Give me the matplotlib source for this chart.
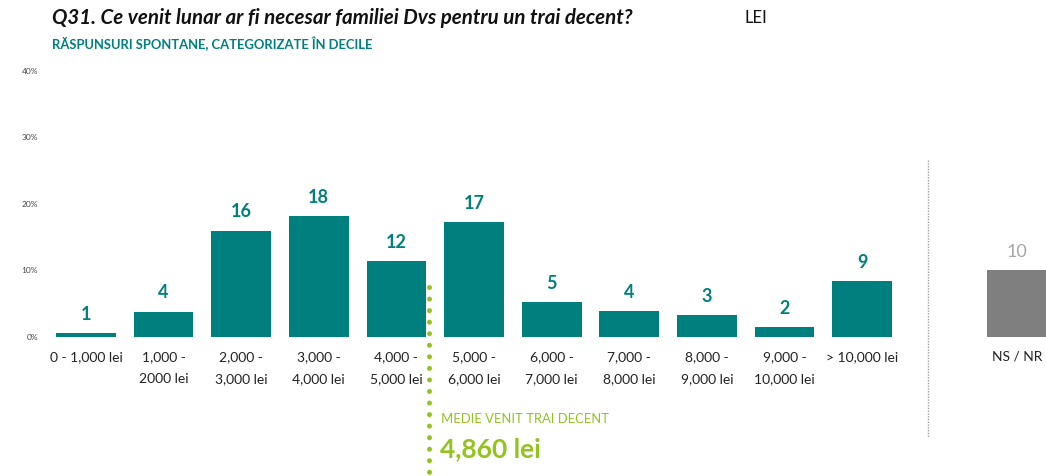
import matplotlib
matplotlib.use("Agg")
from matplotlib import pyplot as plt

# Data
categories = ["0 - 1,000 lei", "1,000 -\n2000 lei", "2,000 -\n3,000 lei", "3,000 -\n4,000 lei",
              "4,000 -\n5,000 lei", "5,000 -\n6,000 lei", "6,000 -\n7,000 lei", "7,000 -\n8,000 lei",
              "8,000 -\n9,000 lei", "9,000 -\n10,000 lei", "> 10,000 lei"]
values = [0.6, 3.8, 16.0, 18.2, 11.4, 17.3, 5.3, 3.9, 3.3, 1.5, 8.4]
value_labels = ["1", "4", "16", "18", "12", "17", "5", "4", "3", "2", "9"]
nsnr_label = "NS / NR"
nsnr_value = 10.0
nsnr_text = "10"
mean_income = 4860
yticks = [0, 10, 20, 30, 40]

TEAL = "#007f7f"
GREY = "#7f7f7f"
GREEN = "#92c31e"
FONT = "Lato"

plt.rcParams["font.family"] = [FONT, "DejaVu Sans"]

fig = plt.figure(figsize=(10.46, 4.76), dpi=100)
ax = fig.add_axes([45 / 1046, 139 / 476, 1 - 45 / 1046, 277 / 476])

x = list(range(len(categories)))
ax.bar(x, values, width=0.77, color=TEAL)
for xi, v, lab in zip(x, values, value_labels):
    ax.annotate(lab, (xi, v), xytext=(0, 13.5), textcoords="offset points",
                ha="center", va="center", fontsize=13, fontweight="bold", color=TEAL)

nsnr_x = len(categories) + 1
ax.bar([nsnr_x], [nsnr_value], width=0.77, color=GREY)
ax.annotate(nsnr_text, (nsnr_x, nsnr_value), xytext=(0, 13.5), textcoords="offset points",
            ha="center", va="center", fontsize=13, color="#a6a6a6")

ax.set_xlim(-0.528, 12.37)
ax.set_ylim(0, 41.65)
ax.set_xticks(x + [nsnr_x])
ax.set_xticklabels(categories + [nsnr_label], fontsize=10, color="#222222", linespacing=2.0)
ax.tick_params(axis="x", length=0, pad=10)
ax.set_yticks(yticks)
ax.set_yticklabels([f"{t}%" for t in yticks], fontsize=6, color="#444444")
ax.tick_params(axis="y", length=0, pad=5)
for s in ax.spines.values():
    s.set_visible(False)

# separator before NS / NR
ax.plot([10.85, 10.85], [26.6, -15.0], color="#a0a0a0", lw=1, ls=(0, (1, 1)), clip_on=False)

# mean line (position in lei scale: 1000 lei per bar)
mx = mean_income / 1000 - 0.44
ax.plot([mx, mx], [7.5, -21.5], color=GREEN, lw=3.6, ls=(0, (0.01, 2.3)),
        dash_capstyle="round", solid_capstyle="round", clip_on=False)
ax.text(mx + 0.16, -12.3, "MEDIE VENIT TRAI DECENT", fontsize=9.4, color=GREEN,
        ha="left", va="center")
ax.text(mx + 0.14, -16.8, f"{mean_income:,} lei", fontsize=19, fontweight="bold",
        color=GREEN, ha="left", va="center")

fig.text(52 / 1046, 1 - 18 / 476, "Q31. Ce venit lunar ar fi necesar familiei Dvs pentru un trai decent?",
         fontsize=14.8, fontweight="bold", fontstyle="italic", color="#111111", va="center")
fig.text(745 / 1046, 1 - 18 / 476, "LEI", fontsize=12, color="#111111", va="center")
fig.text(52 / 1046, 1 - 44 / 476, "RĂSPUNSURI SPONTANE, CATEGORIZATE ÎN DECILE",
         fontsize=9.4, fontweight="bold", color=TEAL, va="center")

fig.savefig("out.png", dpi=100)
